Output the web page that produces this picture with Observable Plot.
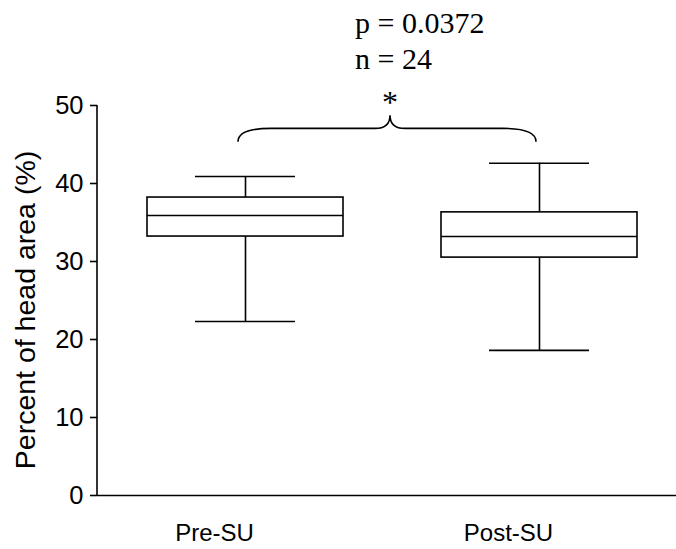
<!DOCTYPE html>
<html>
<head>
<meta charset="utf-8">
<script src="https://cdn.jsdelivr.net/npm/d3@7"></script>
<script src="https://cdn.jsdelivr.net/npm/@observablehq/plot@0.6"></script>
<style>
  html, body { margin: 0; padding: 0; background: #fff; }
  #chart svg { display: block; }
</style>
</head>
<body>
<div id="chart"></div>
<script>
// ---- data ----
const groups = ["Pre-SU", "Post-SU"];
const whiskerLow = [22.3, 18.6];
const q1 = [33.2, 30.5];
const median = [35.9, 33.2];
const q3 = [38.2, 36.3];
const whiskerHigh = [40.9, 42.6];
const yTicks = [0, 10, 20, 30, 40, 50];
const yLabel = "Percent of head area (%)";
const pText = "p = 0.0372";
const nText = "n = 24";
const sigMark = "*";

const rows = groups.map((g, i) => ({
  group: g, lo: whiskerLow[i], q1: q1[i], med: median[i], q3: q3[i], hi: whiskerHigh[i]
}));

const sans = "'Liberation Sans', Arial, Helvetica, sans-serif";
const serif = "'Liberation Serif', 'Times New Roman', Times, serif";
const sw = 1.6;

function annotations(index, scales, values, dim) {
  const x = scales.x, y = scales.y;
  const bw = x.bandwidth ? x.bandwidth() : 0;
  const cx = (g) => x(g) + bw / 2;
  const g = d3.create("svg:g");
  // y axis line
  g.append("line")
    .attr("x1", dim.marginLeft).attr("x2", dim.marginLeft)
    .attr("y1", y(0)).attr("y2", y(50))
    .attr("stroke", "black").attr("stroke-width", sw);
  // y label
  const yc = (y(0) + y(50)) / 2 + 10;
  g.append("text")
    .attr("transform", `translate(35,${yc}) rotate(-90)`)
    .attr("text-anchor", "middle")
    .attr("font-family", sans).attr("font-size", 28.5)
    .attr("fill", "black")
    .text(yLabel);
  // brace between the two groups
  const x0 = cx(groups[0]) - 7, x1 = cx(groups[1]) - 3;
  const xc = (x0 + x1) / 2 + 3;
  const yE = y(45.3), yH = y(47.0), yC = y(48.7);
  const path = `M${x0},${yE} Q${x0},${yH} ${x0 + 33},${yH} L${xc - 15},${yH} Q${xc},${yH} ${xc},${yC} ` +
               `Q${xc},${yH} ${xc + 15},${yH} L${x1 - 33},${yH} Q${x1},${yH} ${x1},${yE}`;
  g.append("path").attr("d", path).attr("fill", "none")
    .attr("stroke", "black").attr("stroke-width", sw);
  // significance text
  g.append("text").attr("x", xc).attr("y", y(49.0))
    .attr("text-anchor", "middle").attr("font-family", serif).attr("font-size", 32)
    .attr("fill", "black").text(sigMark);
  g.append("text").attr("x", xc - 35).attr("y", y(54.6))
    .attr("text-anchor", "start")
    .attr("font-family", serif).attr("font-size", 30).attr("fill", "black").text(nText);
  g.append("text").attr("x", xc - 35).attr("y", y(59.2))
    .attr("text-anchor", "start")
    .attr("font-family", serif).attr("font-size", 30).attr("fill", "black").text(pText);
  return g.node();
}

const chart = Plot.plot({
  width: 676,
  height: 549,
  marginLeft: 97,
  marginRight: 0,
  marginTop: 105,
  marginBottom: 54,
  style: { fontFamily: sans, color: "black", background: "white", overflow: "visible" },
  x: { type: "band", domain: groups, range: [97, 687], paddingInner: 1 / 3, paddingOuter: 0.17 },
  y: { domain: [0, 50] },
  marks: [
    Plot.axisY({ ticks: yTicks, tickSize: 7, tickPadding: 7, fontSize: 25.5, label: null, strokeWidth: sw }),
    Plot.axisX({ tickSize: 0, tickPadding: 28, fontSize: 24, dx: -31, label: null }),
    Plot.ruleY([0], { stroke: "black", strokeWidth: sw }),
    Plot.ruleX(rows, { x: "group", y1: "lo", y2: "hi", stroke: "black", strokeWidth: sw }),
    Plot.barY(rows, { x: "group", y1: "q1", y2: "q3", fill: "white", stroke: "black", strokeWidth: sw }),
    Plot.tickY(rows, { x: "group", y: "med", stroke: "black", strokeWidth: sw }),
    Plot.tickY(rows, { x: "group", y: "lo", stroke: "black", strokeWidth: sw, insetLeft: 48, insetRight: 48 }),
    Plot.tickY(rows, { x: "group", y: "hi", stroke: "black", strokeWidth: sw, insetLeft: 48, insetRight: 48 }),
    annotations
  ]
});

document.getElementById("chart").appendChild(chart);
</script>
</body>
</html>
